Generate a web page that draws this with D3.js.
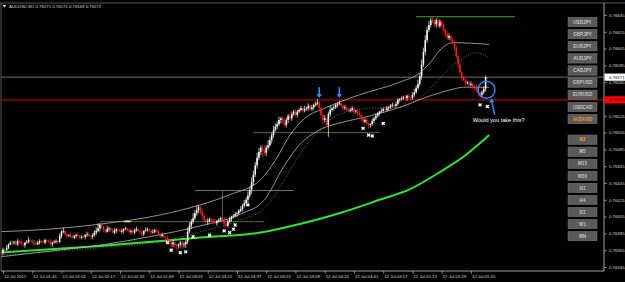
<!DOCTYPE html>
<html>
<head>
<meta charset="utf-8">
<script src="https://cdn.jsdelivr.net/npm/d3@7"></script>
<style>
  body { margin: 0; background: #000; }
  svg { display: block; }
  text { font-family: 'Liberation Sans', Arial, sans-serif; }
</style>
</head>
<body>
<div id="chart"></div>
<script>
// AUDUSD M1, prices in points (1e-5)
const symbol = 'AUDUSD,M1'
const lastBar = ['0.76571', '0.76571', '0.76569', '0.76571']
const firstOpen = 76362

const closes = [
  76366, 76365, 76368, 76372, 76374,
  76374, 76375, 76372, 76376, 76375, 76372, 76371, 76374, 76375, 76377, 76376, 76374, 76374,
  76372, 76374, 76376, 76375, 76374, 76377, 76376, 76375, 76372, 76374, 76375, 76376, 76375,
  76382, 76387, 76388, 76384, 76382, 76383, 76381, 76380, 76382, 76383, 76382, 76380, 76381,
  76381, 76383, 76384, 76382, 76381, 76383, 76386, 76388, 76391,
  76395, 76393, 76389, 76387, 76390, 76391, 76389, 76386, 76388, 76390, 76389, 76387,
  76388, 76390, 76391, 76389, 76387, 76388, 76386, 76389, 76390, 76388, 76387, 76384, 76388,
  76389, 76390, 76388, 76386, 76387, 76389, 76388, 76384, 76382, 76383, 76381, 76380,
  76377, 76375, 76372, 76374, 76371, 76370, 76372, 76374, 76371, 76372, 76375,
  76387, 76394, 76399, 76403, 76409, 76413, 76416,
  76411, 76406, 76401, 76399, 76400, 76402, 76401, 76399, 76397, 76400, 76401, 76403, 76402, 76396, 76394,
  76399, 76402, 76405, 76406, 76408, 76409, 76412, 76414, 76418, 76421, 76425, 76430,
  76437, 76446, 76455, 76466, 76475, 76482, 76487, 76484,
  76481, 76487, 76490, 76496, 76502, 76508, 76512, 76515, 76520, 76522,
  76518, 76514, 76520, 76525, 76522, 76527, 76530, 76526, 76530, 76532, 76534, 76531, 76533,
  76534, 76537, 76533, 76535, 76538, 76539, 76541,
  76534, 76526, 76520, 76522, 76514, 76527,
  76532, 76534, 76535, 76538, 76539, 76540,
  76537, 76534, 76535, 76533, 76531, 76532, 76534, 76530, 76531, 76528,
  76526, 76522, 76518, 76520, 76516, 76514, 76515,
  76519, 76522, 76525, 76528, 76530, 76531, 76533, 76532,
  76534, 76535, 76537, 76538, 76537, 76539,
  76544, 76545, 76546, 76547, 76546, 76549, 76547, 76546,
  76550, 76553, 76558, 76563,
  76572, 76586, 76601, 76615, 76627, 76633, 76639,
  76637, 76634, 76639, 76632, 76637, 76633,
  76627, 76622, 76618, 76620, 76615, 76613,
  76606, 76596, 76586, 76577, 76570,
  76568, 76564, 76565, 76562, 76563, 76560, 76559,
  76556, 76552, 76550, 76553, 76557,
  76571, 76571
]

const wickHi = [
  2, 1, 3, 1, 2, 3, 1, 2, 2, 1,  3, 2, 1, 2, 4, 1, 2, 3, 1, 2,
  2, 1, 3, 2, 1, 2, 3, 1, 2, 2,  1, 3, 2, 4, 1, 2, 1, 3, 2, 1,
  2, 3, 1, 2, 2, 1, 3, 2, 1, 2,  3, 4, 6, 2, 3, 1, 2, 4, 2, 1,
  2, 3, 1, 2, 2, 3, 1, 2, 1, 3,  2, 1, 2, 3, 1, 2, 2, 1, 3, 2,
  1, 2, 3, 1, 2, 2, 1, 3, 2, 1,  2, 1, 2, 3, 1, 2, 1, 2, 2, 3,
  2, 5, 4, 3, 6, 4, 5, 3, 2, 3,  2, 1, 3, 2, 1, 2, 3, 1, 2, 2,
  1, 3, 2, 2, 3, 1, 2, 3, 2, 2,  3, 2, 4, 3, 5, 4, 6, 5, 4, 6,
  5, 3, 4, 5, 3, 6, 4, 3, 5, 4,  3, 4, 2, 3, 4, 3, 2, 4, 3, 2,
  3, 2, 2, 3, 2, 4, 2, 3, 2, 3,  2, 3, 4, 2, 3, 2, 4, 1, 3, 5,
  2, 3, 2, 2, 3, 4, 2, 3, 2, 1,  2, 3, 2, 1, 2, 3, 2, 1, 2, 3,
  2, 1, 3, 2, 3, 2, 1, 3, 2, 2,  3, 2, 2, 3, 2, 3, 2, 1, 2, 2,
  3, 1, 2, 2, 3, 4, 3, 5, 4, 6,  5, 6, 4, 5, 3, 4, 3, 2, 4, 3,
  2, 3, 2, 4, 3, 2, 3, 2, 3, 2,  3, 2, 3, 2, 1, 2, 3, 2, 2, 3,
  2, 3, 2, 3, 2, 0
]

const wickLo = [
  3, 2, 1, 2, 1, 2, 3, 1, 2, 2,  1, 2, 3, 1, 2, 2, 1, 3, 2, 1,
  2, 3, 1, 2, 2, 1, 2, 3, 1, 2,  2, 1, 3, 2, 2, 3, 1, 2, 1, 2,
  3, 1, 2, 2, 1, 3, 2, 1, 2, 3,  2, 3, 2, 4, 2, 3, 2, 1, 3, 2,
  1, 2, 3, 2, 1, 2, 3, 1, 2, 2,  3, 1, 2, 2, 1, 3, 2, 2, 1, 2,
  2, 3, 1, 2, 2, 1, 3, 2, 2, 3,  4, 3, 5, 3, 4, 6, 3, 4, 5, 3,
  4, 3, 2, 4, 3, 2, 3, 4, 3, 5,  3, 2, 4, 2, 3, 2, 1, 3, 2, 2,
  3, 4, 3, 2, 2, 3, 2, 2, 3, 2,  2, 3, 2, 3, 4, 3, 5, 4, 3, 4,
  3, 4, 8, 3, 4, 3, 2, 4, 3, 2,  3, 2, 4, 3, 2, 3, 4, 2, 3, 2,
  2, 3, 2, 2, 3, 2, 2, 3, 2, 2,  3, 2, 2, 4, 3, 5, 3, 2, 14, 3,
  2, 3, 2, 3, 2, 2, 3, 2, 3, 2,  2, 2, 3, 2, 3, 2, 4, 3, 2, 3,
  4, 3, 2, 3, 2, 2, 3, 2, 2, 3,  2, 3, 2, 2, 3, 2, 2, 3, 2, 2,
  2, 3, 2, 3, 2, 3, 2, 2, 3, 4,  3, 4, 3, 2, 3, 2, 3, 4, 2, 3,
  3, 2, 3, 2, 3, 2, 3, 4, 3, 4,  3, 4, 2, 3, 2, 3, 2, 3, 4, 3,
  4, 3, 3, 2, 3, 2
]

const timeTicks = [0, 16, 32, 48, 64, 80, 96, 112, 128, 144, 160, 176, 192, 208, 224, 240, 256]
const timeLabels = ['12 Jul 2017', '12 Jul 01:45', '12 Jul 02:01', '12 Jul 02:17', '12 Jul 02:33',
  '12 Jul 02:49', '12 Jul 03:05', '12 Jul 03:21', '12 Jul 03:37', '12 Jul 03:53', '12 Jul 04:09',
  '12 Jul 04:25', '12 Jul 04:41', '12 Jul 04:57', '12 Jul 05:13', '12 Jul 05:29', '12 Jul 05:45']

const priceTicks = [76345, 76365, 76385, 76405, 76425, 76445, 76465, 76485, 76505, 76525,
  76545, 76565, 76585, 76605, 76625, 76645]

const bidPrice = 76571
const alertPrice = 76544

// indicator lines, [bar, price]
const upperBand = [[-2, 76387], [31, 76391], [53, 76396], [86, 76407], [108, 76419], [124, 76431],
  [141, 76449], [149, 76472], [157, 76502], [165, 76522], [176, 76534], [195, 76550], [217, 76565],
  [228, 76576], [234, 76589], [239, 76603], [246, 76612], [266, 76610]]
const middleBand = [[-2, 76357], [26, 76364], [53, 76371], [80, 76381], [108, 76394], [130, 76408],
  [143, 76425], [154, 76466], [162, 76490], [173, 76508], [187, 76518], [201, 76525], [217, 76535],
  [234, 76549], [245, 76556], [252, 76559], [266, 76559]]
const slowMA = [[-2, 76359], [53, 76368], [86, 76375], [108, 76387], [130, 76401], [143, 76415],
  [154, 76449], [162, 76478], [173, 76508], [184, 76527], [201, 76534], [214, 76535], [228, 76546],
  [239, 76570], [250, 76591], [259, 76600], [266, 76594]]
const trendMA = [[-2, 76362], [53, 76370], [108, 76380], [141, 76386], [162, 76396], [184, 76409],
  [206, 76425], [223, 76438], [239, 76458], [253, 76478], [266, 76502]]

// drawn objects: [price, fromBar, toBar]
const highLevel = [76643, 226, 280]
const supportLevels = [[76505, 137, 206], [76399, 53, 143], [76436, 105, 159]]
const markerSegment = [76399, 66, 70]
const boxEdge = [120, 76399, 76436]

const crosses = [[90, 76374], [92, 76365], [97, 76362], [100, 76363], [104, 76381], [113, 76383],
  [121, 76388], [124, 76386], [126, 76390], [127, 76395], [134, 76419], [197, 76510], [200, 76502],
  [202, 76501], [208, 76516], [261, 76538], [265, 76536]]
const downArrows = [[173, 76546], [184, 76546]]
const circled = [264.5, 76556]
const upArrow = [267, 76546]
const note = [257, 76518, 'Would you take this?']

const pairButtons = ['USDJPY', 'GBPJPY', 'EURJPY', 'AUDJPY', 'CADJPY', 'GBPUSD', 'EURUSD', 'USDCAD', 'AUDUSD']
const tfButtons = ['M1', 'M5', 'M15', 'M30', 'H1', 'H4', 'D1', 'W1', 'MN']
const activePair = 'AUDUSD', activeTf = 'M1'

const width = 625, height = 282
const plotLeft = 1, plotTop = 3, plotRight = 604, plotBottom = 271
const fg = '#d8d8d8', small = 4.3

const svg = d3.select('#chart').append('svg')
  .attr('width', width)
  .attr('height', height)
  .style('background', '#000')

const x = d3.scaleLinear().domain([0, closes.length - 1]).range([3, 487.4])
const y = d3.scaleLinear().domain([76345, 76645]).range([267, 15])

svg.append('clipPath').attr('id', 'plot-clip')
  .append('rect')
  .attr('x', plotLeft).attr('y', plotTop)
  .attr('width', plotRight - plotLeft).attr('height', plotBottom - plotTop)

const plot = svg.append('g').attr('clip-path', 'url(#plot-clip)')

// horizontal price lines
plot.append('line')
  .attr('x1', plotLeft).attr('x2', plotRight)
  .attr('y1', y(bidPrice)).attr('y2', y(bidPrice))
  .attr('stroke', '#8a8a8a').attr('stroke-width', 0.8)
plot.append('line')
  .attr('x1', plotLeft).attr('x2', plotRight)
  .attr('y1', y(alertPrice)).attr('y2', y(alertPrice))
  .attr('stroke', '#a80000').attr('stroke-width', 1.2)

// drawn levels
plot.selectAll('.support').data(supportLevels).enter()
  .append('line').classed('support', true)
  .attr('x1', d => x(d[1])).attr('x2', d => x(d[2]))
  .attr('y1', d => y(d[0])).attr('y2', d => y(d[0]))
  .attr('stroke', (d, k) => k === 2 ? '#7c8a5a' : '#587a22')
  .attr('stroke-width', 0.9)
plot.append('line')
  .attr('x1', x(boxEdge[0])).attr('x2', x(boxEdge[0]))
  .attr('y1', y(boxEdge[1])).attr('y2', y(boxEdge[2]))
  .attr('stroke', '#8a8a8a').attr('stroke-width', 0.7)
plot.append('line')
  .attr('x1', x(markerSegment[1])).attr('x2', x(markerSegment[2]))
  .attr('y1', y(markerSegment[0])).attr('y2', y(markerSegment[0]))
  .attr('stroke', '#f0f05a').attr('stroke-width', 1.2)
plot.append('line')
  .attr('x1', x(highLevel[1])).attr('x2', x(highLevel[2]))
  .attr('y1', y(highLevel[0])).attr('y2', y(highLevel[0]))
  .attr('stroke', '#2a8a18').attr('stroke-width', 1.3)

// indicators
const line = d3.line().x(d => x(d[0])).y(d => y(d[1])).curve(d3.curveMonotoneX)
plot.append('path').datum(trendMA)
  .attr('d', line).attr('fill', 'none')
  .attr('stroke', '#2ee62e').attr('stroke-width', 2)
plot.append('path').datum(slowMA)
  .attr('d', line).attr('fill', 'none')
  .attr('stroke', '#8c8c8c').attr('stroke-width', 0.8).attr('stroke-dasharray', '1,1.6')
plot.append('path').datum(middleBand)
  .attr('d', line).attr('fill', 'none')
  .attr('stroke', '#b8b8b8').attr('stroke-width', 0.8)
plot.append('path').datum(upperBand)
  .attr('d', line).attr('fill', 'none')
  .attr('stroke', '#b8b8b8').attr('stroke-width', 0.8)

// candles
const bars = closes.map((c, i) => {
  const o = i === 0 ? firstOpen : closes[i - 1]
  return { i: i, o: o, c: c, h: Math.max(o, c) + wickHi[i], l: Math.min(o, c) - wickLo[i] }
})
const barColor = d => d.c > d.o ? '#ffffff' : d.c < d.o ? '#ff1e1e' : '#00c800'

const candle = plot.append('g').classed('candles', true)
  .selectAll('g').data(bars).enter()
  .append('g')
candle.append('line')
  .attr('x1', d => x(d.i)).attr('x2', d => x(d.i))
  .attr('y1', d => y(d.h)).attr('y2', d => y(d.l))
  .attr('stroke', barColor).attr('stroke-width', 0.7)
candle.append('rect')
  .attr('x', d => x(d.i) - 0.75)
  .attr('width', 1.5)
  .attr('y', d => y(Math.max(d.o, d.c)))
  .attr('height', d => Math.max(0.7, Math.abs(y(d.o) - y(d.c))))
  .attr('fill', barColor)

// cross marks
plot.selectAll('.cross').data(crosses).enter()
  .append('path').classed('cross', true)
  .attr('d', d3.symbol(d3.symbolCross).size(9))
  .attr('transform', d => 'translate(' + x(d[0]) + ', ' + y(d[1]) + ') rotate(45)')
  .attr('fill', '#ffffff')

// blue annotations
const blue = '#2a90ff'
plot.selectAll('.down-arrow').data(downArrows).enter()
  .append('path').classed('down-arrow', true)
  .attr('d', 'M0,0 L-2.6,-4.2 L-0.8,-4.2 L-0.8,-11 L0.8,-11 L0.8,-4.2 L2.6,-4.2 Z')
  .attr('transform', d => 'translate(' + x(d[0]) + ', ' + y(d[1]) + ')')
  .attr('fill', blue)
plot.append('circle')
  .attr('cx', x(circled[0])).attr('cy', y(circled[1]))
  .attr('r', 8.5)
  .attr('fill', 'none').attr('stroke', blue).attr('stroke-width', 1.4)
plot.append('path')
  .attr('d', 'M0,0 L-2.6,4.2 L-0.7,4.2 L-0.7,17 L0.7,17 L0.7,4.2 L2.6,4.2 Z')
  .attr('transform', 'translate(' + x(upArrow[0]) + ', ' + y(upArrow[1]) + ') rotate(-12)')
  .attr('fill', blue)
plot.append('text')
  .attr('x', x(note[0])).attr('y', y(note[1]))
  .attr('font-size', 5.6).attr('fill', '#ffffff')
  .text(note[2])

// frame
svg.append('line')
  .attr('x1', 0).attr('x2', width).attr('y1', plotTop).attr('y2', plotTop)
  .attr('stroke', '#6a6a6a').attr('stroke-width', 0.8)
svg.append('line')
  .attr('x1', plotLeft).attr('x2', plotLeft).attr('y1', plotTop).attr('y2', plotBottom)
  .attr('stroke', '#6a6a6a').attr('stroke-width', 0.8)
svg.append('line')
  .attr('x1', plotRight).attr('x2', plotRight).attr('y1', plotTop).attr('y2', plotBottom)
  .attr('stroke', '#c8c8c8').attr('stroke-width', 0.8)
svg.append('line')
  .attr('x1', plotLeft).attr('x2', plotRight).attr('y1', plotBottom).attr('y2', plotBottom)
  .attr('stroke', '#c8c8c8').attr('stroke-width', 0.8)

// price axis
const priceAxis = d3.axisRight(y)
  .tickValues(priceTicks)
  .tickSize(3)
  .tickFormat(d => (d / 1e5).toFixed(5))
svg.append('g').classed('price-axis', true)
  .attr('transform', 'translate(' + plotRight + ', 0)')
  .call(priceAxis)
  .call(g => g.select('.domain').remove())
  .call(g => g.selectAll('line').attr('stroke', '#c8c8c8').attr('stroke-width', 0.6))
  .call(g => g.selectAll('text').attr('fill', fg).attr('font-size', small).attr('x', 5))

// time axis
const timeAxis = d3.axisBottom(x)
  .tickValues(timeTicks)
  .tickSize(3)
  .tickFormat((d, k) => timeLabels[k])
svg.append('g').classed('time-axis', true)
  .attr('transform', 'translate(0, ' + plotBottom + ')')
  .call(timeAxis)
  .call(g => g.select('.domain').remove())
  .call(g => g.selectAll('line').attr('stroke', '#c8c8c8').attr('stroke-width', 0.6))
  .call(g => g.selectAll('text').attr('fill', fg).attr('font-size', small)
    .attr('text-anchor', 'start').attr('x', 0.5).attr('y', 4))

// price labels
const priceBox = (price, fill, ink) => {
  const g = svg.append('g').attr('transform', 'translate(' + (plotRight + 0.5) + ', ' + y(price) + ')')
  g.append('rect')
    .attr('x', 0).attr('y', -3.6).attr('width', 20.5).attr('height', 7.2)
    .attr('fill', fill)
  g.append('text')
    .attr('x', 4.5).attr('y', 1.5)
    .attr('font-size', small).attr('fill', ink)
    .text((price / 1e5).toFixed(5))
}
priceBox(bidPrice, '#ffffff', '#000000')
priceBox(alertPrice, '#ff0000', '#2a0000')

// symbol buttons
const buttons = svg.append('g').classed('buttons', true)
const drawButtons = (names, top, step, active) => {
  const b = buttons.selectAll(null).data(names).enter()
    .append('g')
    .attr('transform', (d, k) => 'translate(568, ' + (top + k * step) + ')')
  b.append('rect')
    .attr('width', 29).attr('height', 9.4)
    .attr('fill', '#5a5a5a').attr('stroke', '#7a7a7a').attr('stroke-width', 0.5)
  b.append('text')
    .attr('x', 14.5).attr('y', 6.4)
    .attr('text-anchor', 'middle')
    .attr('font-size', 4.6).attr('font-weight', 'bold')
    .attr('fill', d => d === active ? '#f0962a' : '#c4c4c4')
    .text(d => d)
}
drawButtons(pairButtons, 17.3, 12.13, activePair)
drawButtons(tfButtons, 135, 12.05, activeTf)

// header
svg.append('path')
  .attr('d', 'M2.5,5 L6.5,5 L4.5,7.5 Z')
  .attr('fill', fg)
svg.append('text')
  .attr('x', 9).attr('y', 8)
  .attr('font-size', small).attr('fill', fg)
  .text(symbol + '  ' + lastBar.join(' '))
</script>
</body>
</html>
